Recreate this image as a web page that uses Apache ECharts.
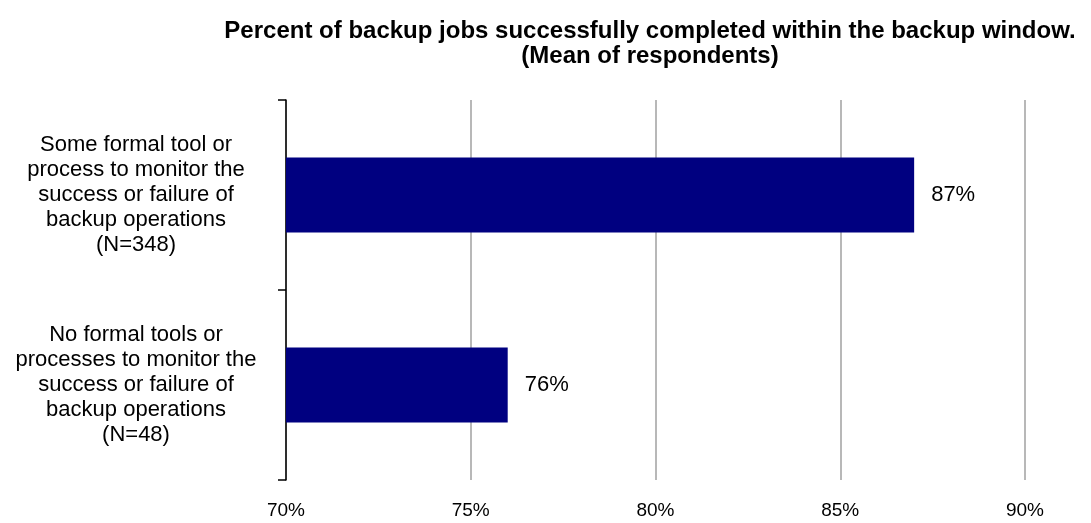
<!DOCTYPE html>
<html>
<head>
<meta charset="utf-8">
<script src="https://cdn.jsdelivr.net/npm/echarts@6/dist/echarts.min.js"></script>
<style>
  html, body { margin: 0; padding: 0; background: #fff; }
  #chart { width: 1091px; height: 523px; }
</style>
</head>
<body>
<div id="chart"></div>
<script>
var categories = [
    'Some formal tool or\nprocess to monitor the\nsuccess or failure of\nbackup operations\n(N=348)',
    'No formal tools or\nprocesses to monitor the\nsuccess or failure of\nbackup operations\n(N=48)'
];
var values = [87, 76];
var xTicks = [70, 75, 80, 85, 90];

var myChart = echarts.init(document.getElementById('chart'));
var font = "'Liberation Sans', Arial, sans-serif";

var option = {
    animation: false,
    title: {
        text: 'Percent of backup jobs successfully completed within the backup window.\n(Mean of respondents)',
        left: 645,
        top: 14,
        textAlign: 'center',
        textStyle: {
            fontFamily: font,
            fontSize: 24,
            fontWeight: 'bold',
            color: '#000',
            lineHeight: 25
        }
    },
    grid: {
        left: 286,
        right: 66,
        top: 100,
        bottom: 43
    },
    xAxis: {
        type: 'value',
        min: xTicks[0],
        max: xTicks[xTicks.length - 1],
        interval: 5,
        axisLine: { show: false },
        axisTick: { show: false },
        splitLine: {
            lineStyle: { color: '#a0a0a0', width: 1.5 }
        },
        axisLabel: {
            formatter: '{value}%',
            margin: 21,
            color: '#000',
            fontFamily: font,
            fontSize: 19
        }
    },
    yAxis: {
        type: 'category',
        inverse: true,
        data: categories,
        axisLine: { lineStyle: { color: '#000', width: 1.5 } },
        axisTick: { show: true, length: 8, lineStyle: { color: '#000', width: 1.5 } },
        axisLabel: {
            align: 'center',
            margin: 150,
            padding: [6, 0, 0, 0],
            color: '#000',
            fontFamily: font,
            fontSize: 22,
            lineHeight: 25
        }
    },
    series: [{
        type: 'bar',
        data: values,
        barWidth: 75,
        itemStyle: { color: '#000080' },
        label: {
            show: true,
            position: 'right',
            distance: 17,
            formatter: '{c}%',
            color: '#000',
            fontFamily: font,
            fontSize: 22
        }
    }]
};

myChart.setOption(option);
window.addEventListener("resize", function () {
    myChart.resize();
});
</script>
</body>
</html>
